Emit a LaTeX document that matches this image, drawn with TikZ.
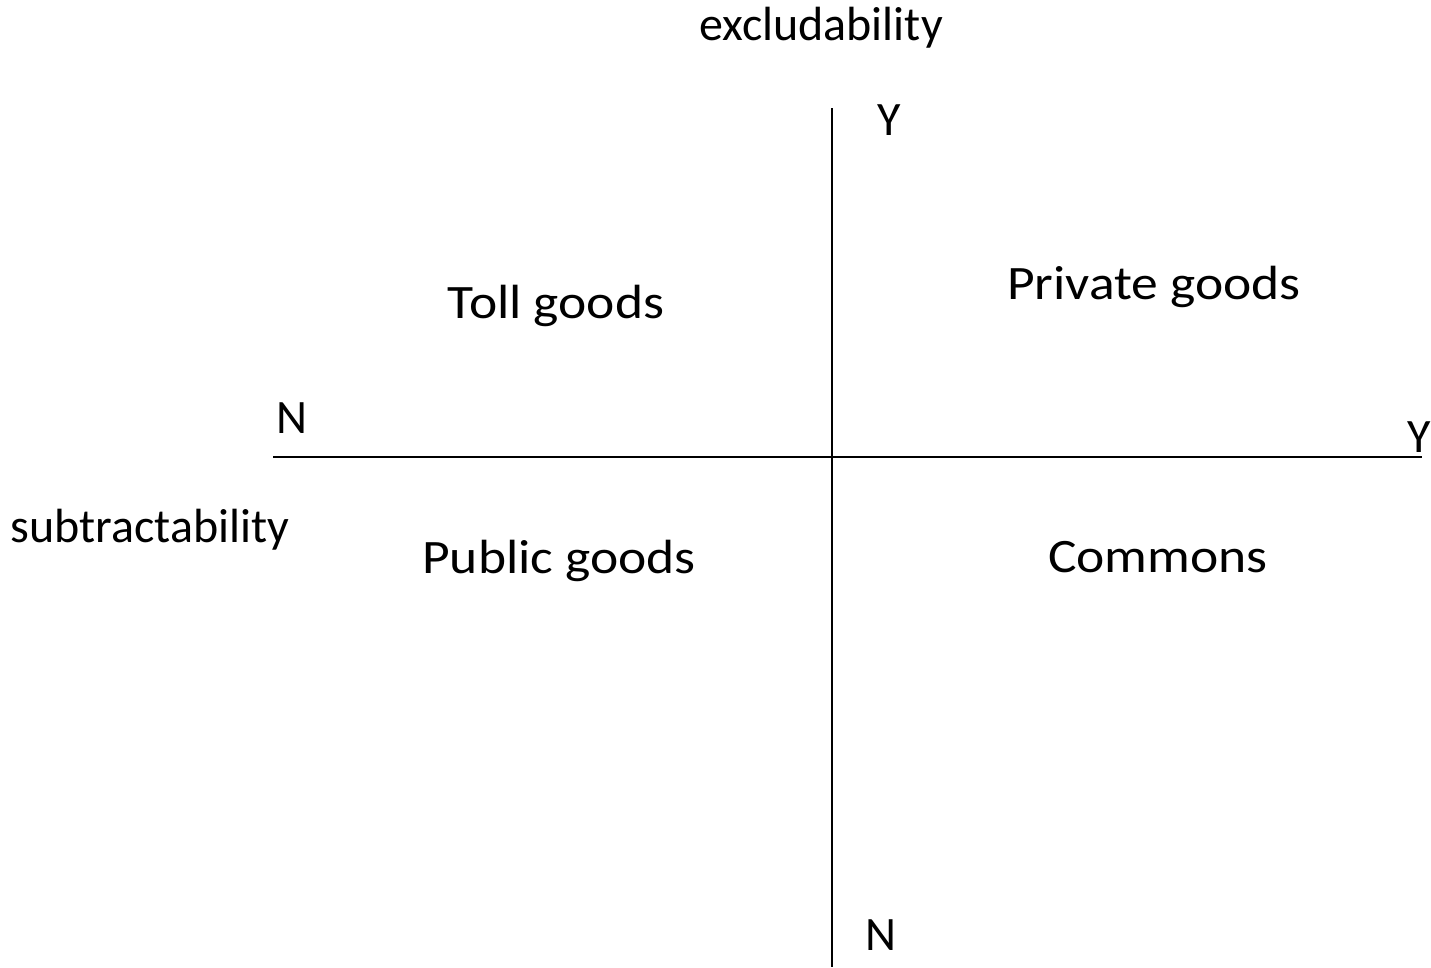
\documentclass[tikz,border=0pt]{standalone}
\usepackage{fontspec}
\setmainfont{Carlito}
\begin{document}
\begin{tikzpicture}[x=1pt,y=-1pt,
  axislabel/.style={inner sep=0pt,anchor=base,font=\fontsize{48}{56}\selectfont},
  quadlabel/.style={inner sep=0pt,anchor=base,font=\fontsize{48}{56}\selectfont},
  axisline/.style={line width=1.6pt,black}]
\newcommand\widen[1]{\scalebox{1.115}[1]{#1}}
\useasboundingbox (0,0) rectangle (1431,967);
% axis end points
\coordinate (vtop) at (832,108);
\coordinate (vbot) at (832,967);
\coordinate (hleft) at (273,457);
\coordinate (hright) at (1422,457);
\draw[axisline] (vtop) -- (vbot);
\draw[axisline] (hleft) -- (hright);
% axis captions and Y/N markers
\node[axislabel] (exc) at (821,40) {excludability};
\node[axislabel] (sub) at (150,542) {subtractability};
\node[axislabel] (ytop) at (889,135) {Y};
\node[axislabel] (nbot) at (881,950) {N};
\node[axislabel] (nleft) at (292,433) {N};
\node[axislabel] (yright) at (1419,452) {Y};
% quadrants
\node[quadlabel] (toll) at (556,318) {\widen{Toll goods}};
\node[quadlabel] (private) at (1154,299) {\widen{Private goods}};
\node[quadlabel] (public) at (559,573) {\widen{Public goods}};
\node[quadlabel] (commons) at (1158,572) {\widen{Commons}};
\end{tikzpicture}
\end{document}
